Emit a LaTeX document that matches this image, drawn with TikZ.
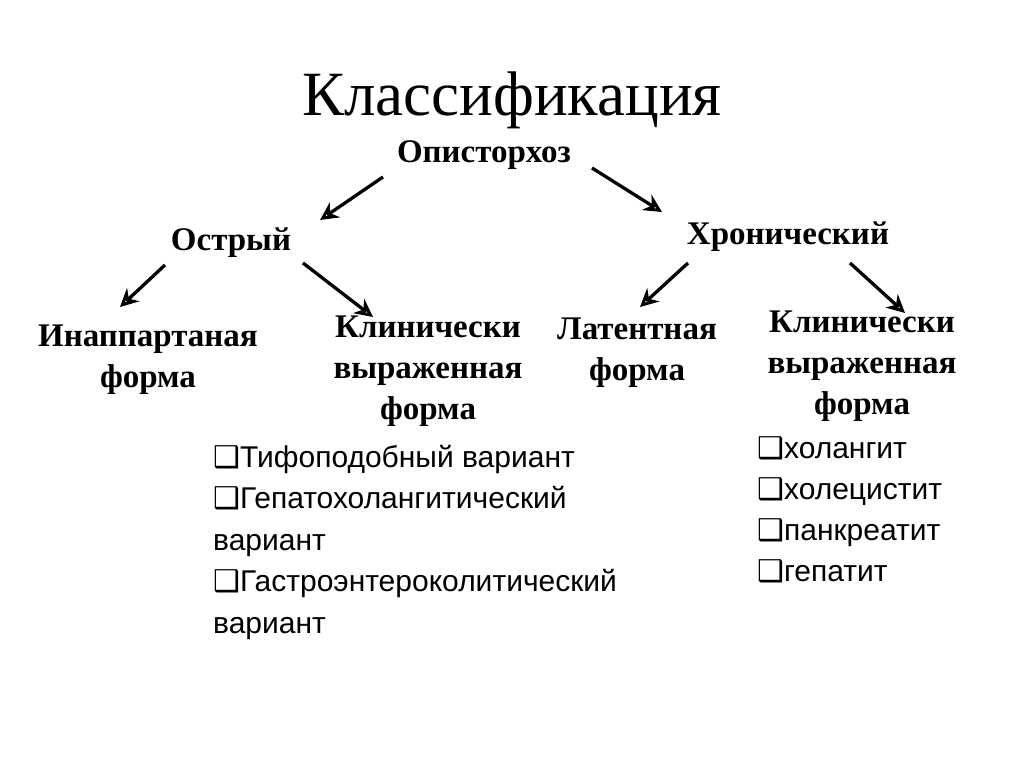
\documentclass[tikz,border=0pt]{standalone}
\usepackage{fontspec}
\setmainfont{Liberation Serif}
\newfontfamily\listfont{Liberation Sans}
\newfontfamily\symfont{DejaVu Sans}
\usetikzlibrary{arrows.meta}
\newcommand{\bx}{{\symfont\char"2751}}
\tikzset{
  lbl/.style={font=\bfseries\fontsize{33}{41}\selectfont,align=center,inner sep=0},
  itm/.style={font=\listfont\fontsize{30}{41.5}\selectfont,align=left,inner sep=0,anchor=north west},
  arr/.style={line width=3.3pt,-{Stealth[length=18pt,width=18pt,open,line width=3.3pt]}}
}
\begin{document}
\begin{tikzpicture}[x=1pt,y=-1pt]
\useasboundingbox (0,0) rectangle (1024,767);
\node[font=\fontsize{63}{70}\selectfont,inner sep=0] (title) at (512,100) {Классификация};
\node[lbl] (root) at (484,155) {Описторхоз};
\node[lbl] (acute) at (231,243) {Острый};
\node[lbl] (chron) at (788,237) {Хронический};
\node[lbl] (inap) at (148,360) {Инаппартаная\\форма};
\node[lbl] (clin1) at (428,371) {Клинически\\выраженная\\форма};
\node[lbl] (lat) at (637,353) {Латентная\\форма};
\node[lbl] (clin2) at (862,366) {Клинически\\выраженная\\форма};
\node[itm] (list1) at (213,445) {\bx Тифоподобный вариант\\\bx Гепатохолангитический\\вариант\\\bx Гастроэнтероколитический\\вариант};
\node[itm] (list2) at (757,436) {\bx холангит\\[-0.5pt]\bx холецистит\\[-0.5pt]\bx панкреатит\\[-0.5pt]\bx гепатит};
\coordinate (a1) at (383,177); \coordinate (b1) at (320,220);
\coordinate (a2) at (592,168); \coordinate (b2) at (662,212);
\coordinate (a3) at (165,265); \coordinate (b3) at (120,307);
\coordinate (a4) at (303,263); \coordinate (b4) at (373,317);
\coordinate (a5) at (688,263); \coordinate (b5) at (640,307);
\coordinate (a6) at (850,263); \coordinate (b6) at (905,313);
\draw[arr] (a1) -- (b1);
\draw[arr] (a2) -- (b2);
\draw[arr] (a3) -- (b3);
\draw[arr] (a4) -- (b4);
\draw[arr] (a5) -- (b5);
\draw[arr] (a6) -- (b6);
\end{tikzpicture}
\end{document}
